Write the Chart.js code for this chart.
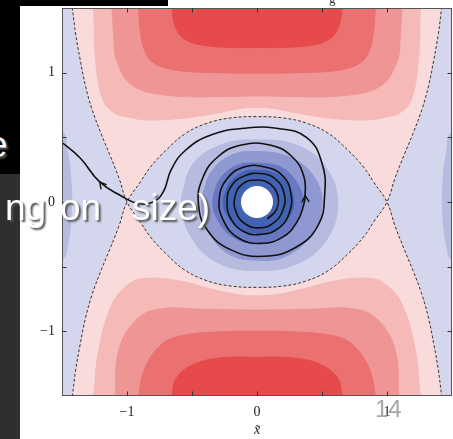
<!DOCTYPE html>
<html>
<head>
<meta charset="utf-8">
<script src="https://cdn.jsdelivr.net/npm/chart.js@4.4.0/dist/chart.umd.min.js"></script>
<style>
  html, body { margin: 0; padding: 0; background: #fff; overflow: hidden; }
  #wrap { position: relative; width: 453px; height: 439px; }
  canvas { position: absolute; left: 0; top: 0; }
  .ov { position: absolute; z-index: 2; white-space: nowrap; }
  .big { font-family: 'Liberation Sans', Arial, sans-serif; font-size: 37px; line-height: 37px; color: #fff; text-shadow: 2px 2px 2px #555; }
</style>
</head>
<body>
<div id="wrap">
  <canvas id="c" width="453" height="439"></canvas>
  <div class="ov" style="left:0;top:0;width:168px;height:6px;background:#000"></div>
  <div class="ov" style="left:0;top:0;width:20px;height:174px;background:#000"></div>
  <div class="ov" style="left:0;top:174px;width:20px;height:265px;background:#2f2f2f"></div>
  <div class="ov" style="left:329px;top:-9px;font-family:'Liberation Serif',serif;font-size:13px;color:#333">g</div>
  <div class="ov big" style="left:-13px;top:126px">e</div>
  <div class="ov big" style="left:5px;top:189px">ng</div>
  <div class="ov big" style="left:60px;top:189px">on</div>
  <div class="ov big" style="left:132px;top:189px">size)</div>
  <div class="ov" style="left:375px;top:397px;font-family:'Liberation Sans',Arial,sans-serif;font-size:24px;line-height:24px;color:#a6a6a6">14</div>
</div>
<script>
// axis ticks
const xTickValues = [-1, -0.5, 0, 0.5, 1];
const xTickLabels = ['−1', '', '0', '', '1'];
const yTickValues = [-1, -0.5, 0, 0.5, 1];
const yTickLabels = ['−1', '', '0', '', '1'];

// contour fill colours: blue levels (psi < 0) and red levels (psi > 0)
const blueLevels = ['#d3d6ed', '#b6bbdf', '#8f98d0', '#6878c2', '#4262b2'];
const redLevels = ['#f9dbdb', '#f5b9b8', '#f09595', '#eb7070', '#e64a4a'];

// separatrix (psi = 0) pieces, saddles at (-1, 0) and (1, 0)
const eyeTop = [[-1.0,0],[-0.9,0.15],[-0.82,0.27],[-0.7,0.4],[-0.55,0.53],[-0.38,0.61],[-0.2,0.65],[0,0.66],
  [0.2,0.65],[0.38,0.61],[0.55,0.53],[0.7,0.4],[0.82,0.27],[0.9,0.15],[1.0,0]];
const eyeBottom = [[-1.0,0],[-0.9,-0.15],[-0.82,-0.27],[-0.7,-0.4],[-0.55,-0.53],[-0.38,-0.61],[-0.2,-0.65],[0,-0.66],
  [0.2,-0.65],[0.38,-0.61],[0.55,-0.53],[0.7,-0.4],[0.82,-0.27],[0.9,-0.15],[1.0,0]];
const outerLeftTop = [[-1.0,0],[-1.06,0.18],[-1.13,0.36],[-1.2,0.53],[-1.27,0.72],[-1.32,0.9],[-1.36,1.1],[-1.395,1.3],[-1.42,1.5],[-1.435,1.62]];
const outerLeftBottom = [[-1.0,0],[-1.06,-0.18],[-1.13,-0.36],[-1.2,-0.53],[-1.27,-0.72],[-1.32,-0.9],[-1.36,-1.1],[-1.395,-1.3],[-1.42,-1.5],[-1.435,-1.62]];
const outerRightTop = [[1.0,0],[1.06,0.18],[1.13,0.36],[1.2,0.53],[1.27,0.72],[1.32,0.9],[1.36,1.1],[1.395,1.3],[1.42,1.5],[1.435,1.62]];
const outerRightBottom = [[1.0,0],[1.06,-0.18],[1.13,-0.36],[1.2,-0.53],[1.27,-0.72],[1.32,-0.9],[1.36,-1.1],[1.395,-1.3],[1.42,-1.5],[1.435,-1.62]];

// red contour levels above the eye
const redTop2 = [[-1.27,1.62],[-1.256,1.5],[-1.244,1.13],[-1.19,0.8],[-1.1,0.69],[-0.98,0.655],[-0.86,0.635],[-0.6,0.645],[-0.35,0.68],[-0.15,0.72],[0,0.733],
  [0.15,0.72],[0.35,0.68],[0.6,0.645],[0.86,0.635],[0.98,0.655],[1.1,0.69],[1.19,0.8],[1.244,1.13],[1.256,1.5],[1.27,1.62]];
const redTop3 = [[-1.12,1.62],[-1.115,1.5],[-1.1,1.25],[-1.09,1.13],[-1.04,1.0],[-0.987,0.925],[-0.9,0.87],[-0.78,0.837],[-0.55,0.815],[-0.3,0.815],[0,0.82],
  [0.3,0.815],[0.55,0.815],[0.78,0.837],[0.9,0.87],[0.987,0.925],[1.04,1.0],[1.09,1.13],[1.1,1.25],[1.115,1.5],[1.12,1.62]];
const redTop4 = [[-0.915,1.62],[-0.91,1.5],[-0.895,1.3],[-0.86,1.16],[-0.8,1.08],[-0.7,1.035],[-0.55,1.01],[-0.3,1.0],[0,0.995],
  [0.3,1.0],[0.55,1.01],[0.7,1.035],[0.8,1.08],[0.86,1.16],[0.895,1.3],[0.91,1.5],[0.915,1.62]];
const redTop5 = [[-0.66,1.62],[-0.654,1.5],[-0.64,1.4],[-0.6,1.3],[-0.52,1.24],[-0.4,1.21],[-0.2,1.195],[0,1.195],
  [0.2,1.195],[0.4,1.21],[0.52,1.24],[0.6,1.3],[0.64,1.4],[0.654,1.5],[0.66,1.62]];

// red contour levels below the eye
const redBot2 = [[-1.27,-1.62],[-1.256,-1.5],[-1.218,-1.148],[-1.115,-0.79],[-0.987,-0.636],[-0.86,-0.59],[-0.6,-0.61],[-0.35,-0.674],[-0.15,-0.715],[0,-0.726],
  [0.15,-0.715],[0.35,-0.674],[0.6,-0.61],[0.86,-0.59],[0.987,-0.636],[1.115,-0.79],[1.218,-1.148],[1.256,-1.5],[1.27,-1.62]];
const redBot3 = [[-1.1,-1.62],[-1.09,-1.5],[-1.064,-1.148],[-0.936,-0.918],[-0.756,-0.828],[-0.4,-0.83],[0,-0.836],
  [0.4,-0.83],[0.756,-0.828],[0.936,-0.918],[1.064,-1.148],[1.09,-1.5],[1.1,-1.62]];
const redBot4 = [[-0.915,-1.62],[-0.91,-1.5],[-0.86,-1.28],[-0.73,-1.097],[-0.577,-1.033],[-0.3,-1.005],[0,-1.0],
  [0.3,-1.005],[0.577,-1.033],[0.73,-1.097],[0.86,-1.28],[0.91,-1.5],[0.915,-1.62]];
const redBot5 = [[-0.66,-1.62],[-0.654,-1.5],[-0.615,-1.354],[-0.474,-1.251],[-0.269,-1.205],[0,-1.2],
  [0.269,-1.205],[0.474,-1.251],[0.615,-1.354],[0.654,-1.5],[0.66,-1.62]];

// weak negative pockets along the left and right edges
const edgeLeft = [[-1.7,0.65],[-1.5,0.55],[-1.46,0.4],[-1.43,0.15],[-1.43,-0.1],[-1.46,-0.35],[-1.5,-0.45],[-1.7,-0.55]];
const edgeRight = [[1.7,0.65],[1.5,0.55],[1.46,0.4],[1.43,0.15],[1.43,-0.1],[1.46,-0.35],[1.5,-0.45],[1.7,-0.55]];

// blue contour levels inside the eye (closed loops)
const blue2 = [[-0.58,0],[-0.5,0.28],[-0.28,0.44],[0,0.48],[0.3,0.44],[0.52,0.28],[0.62,0],[0.53,-0.3],[0.3,-0.48],[0,-0.53],[-0.3,-0.47],[-0.5,-0.28]];
const blue3 = [[-0.425,0],[-0.36,0.22],[-0.2,0.36],[0,0.39],[0.24,0.35],[0.42,0.22],[0.5,0],[0.42,-0.25],[0.22,-0.42],[0,-0.45],[-0.22,-0.4],[-0.37,-0.23]];
const blue4 = [[-0.34,0],[-0.29,0.17],[-0.16,0.28],[0,0.3],[0.18,0.27],[0.3,0.16],[0.355,0],[0.3,-0.17],[0.17,-0.29],[0,-0.32],[-0.17,-0.28],[-0.29,-0.16]];
const blue5 = [[-0.26,0],[-0.22,0.13],[-0.12,0.225],[0,0.245],[0.14,0.22],[0.24,0.13],[0.28,0],[0.24,-0.13],[0.13,-0.22],[0,-0.24],[-0.13,-0.21],[-0.22,-0.12]];
const vortexCore = [[0, 0]];

// particle trajectory, in time order: spirals out of the vortex and leaves to the left
const trajectory = [
  [0.08,-0.13],[0.15,-0.06],[0.16,0.05],[0.1,0.14],[0,0.17],[-0.11,0.14],[-0.17,0.04],[-0.16,-0.08],[-0.09,-0.17],[0.02,-0.2],
  [0.13,-0.16],[0.2,-0.06],[0.21,0.06],[0.15,0.17],[0.03,0.22],[-0.1,0.2],[-0.2,0.12],[-0.23,0],[-0.2,-0.13],[-0.1,-0.23],
  [0.03,-0.25],[0.17,-0.2],[0.25,-0.08],[0.26,0.07],[0.2,0.2],[0.06,0.27],[-0.1,0.27],[-0.23,0.18],[-0.29,0.03],[-0.26,-0.14],
  [-0.14,-0.28],[0.03,-0.32],[0.2,-0.27],[0.31,-0.15],[0.36,-0.02],[0.37,0.05],[0.36,0.2],[0.27,0.35],[0.1,0.44],[-0.12,0.44],
  [-0.3,0.35],[-0.42,0.18],[-0.45,-0.02],[-0.38,-0.22],[-0.2,-0.37],[0.05,-0.42],[0.3,-0.35],[0.47,-0.18],[0.52,0.05],[0.5,0.3],
  [0.38,0.5],[0.15,0.57],[-0.1,0.57],[-0.35,0.52],[-0.55,0.4],[-0.66,0.25],[-0.72,0.08],[-0.8,0.0],[-0.92,-0.01],[-1.05,0.05],
  [-1.21,0.155],[-1.36,0.34],[-1.5,0.46],[-1.56,0.5]
];
// trajectory indices that carry a direction arrow
const arrowAt = [35, 60];

const toPts = a => a.map(([x, y]) => ({ x, y }));
const rev = a => a.slice().reverse();

const layers = [];
function region(points, color, tension = 0.4) {
  layers.push({ data: toPts(points), showLine: true, fill: 'shape', backgroundColor: color,
    borderColor: color, borderWidth: 1, pointRadius: 0, tension });
}
function curve(points, opts) {
  layers.push(Object.assign({ data: toPts(points), showLine: true, fill: false, pointRadius: 0, tension: 0.4 }, opts));
}

// painter's order, bottom layer first
region([[-1.7,-1.7],[-1.7,1.7],[1.7,1.7],[1.7,-1.7]], blueLevels[0], 0);
region(edgeLeft, blueLevels[1]);
region(edgeRight, blueLevels[1]);
region(rev(outerLeftTop).concat(eyeTop, outerRightTop), redLevels[0]);
region(rev(outerLeftBottom).concat(eyeBottom, outerRightBottom), redLevels[0]);
region(redTop2, redLevels[1]); region(redTop3, redLevels[2]); region(redTop4, redLevels[3]); region(redTop5, redLevels[4]);
region(redBot2, redLevels[1]); region(redBot3, redLevels[2]); region(redBot4, redLevels[3]); region(redBot5, redLevels[4]);
[blue2, blue3, blue4, blue5].forEach((loop, i) => region(loop.concat(loop.slice(0, 2)), blueLevels[i + 1]));
layers.push({ data: toPts(vortexCore), showLine: false, pointRadius: 16, pointBackgroundColor: '#fff', pointBorderWidth: 0 });
const dashed = { borderColor: '#333', borderWidth: 1, borderDash: [3, 2] };
curve(rev(outerLeftTop).concat(eyeBottom.slice(1), outerRightTop.slice(1)), dashed);
curve(rev(outerLeftBottom).concat(eyeTop.slice(1), outerRightBottom.slice(1)), dashed);
curve(trajectory, { borderColor: '#111', borderWidth: 1.6, tension: 0.45 });
const trajIndex = layers.length - 1;
layers.forEach((d, i) => { d.order = layers.length - i; });

const frame = {
  id: 'frame',
  afterDatasetsDraw(chart) {
    const { ctx, chartArea: a, scales: { x, y } } = chart;
    ctx.save();
    // direction arrows on the trajectory
    const pts = chart.getDatasetMeta(trajIndex).data;
    ctx.strokeStyle = '#111'; ctx.lineWidth = 1.4; ctx.lineCap = 'round';
    arrowAt.forEach(i => {
      const p = pts[i], q = pts[i + 1];
      const ang = Math.atan2(q.y - p.y, q.x - p.x);
      const L = 7, w = 0.5;
      ctx.beginPath();
      ctx.moveTo(p.x - L * Math.cos(ang - w), p.y - L * Math.sin(ang - w));
      ctx.lineTo(p.x, p.y);
      ctx.lineTo(p.x - L * Math.cos(ang + w), p.y - L * Math.sin(ang + w));
      ctx.stroke();
    });
    // axes frame and inward ticks on all four sides
    ctx.strokeStyle = '#555'; ctx.lineWidth = 1; ctx.lineCap = 'butt';
    ctx.strokeRect(a.left + 0.5, a.top + 0.5, a.right - a.left - 1, a.bottom - a.top - 1);
    const tl = 4.5;
    ctx.strokeStyle = '#333';
    ctx.beginPath();
    xTickValues.forEach(v => {
      const px = Math.round(x.getPixelForValue(v)) + 0.5;
      ctx.moveTo(px, a.bottom); ctx.lineTo(px, a.bottom - tl);
      ctx.moveTo(px, a.top); ctx.lineTo(px, a.top + tl);
    });
    yTickValues.forEach(v => {
      const py = Math.round(y.getPixelForValue(v)) + 0.5;
      ctx.moveTo(a.left, py); ctx.lineTo(a.left + tl, py);
      ctx.moveTo(a.right, py); ctx.lineTo(a.right - tl, py);
    });
    ctx.stroke();
    ctx.restore();
  }
};

const tickFont = { family: "'Liberation Serif', 'DejaVu Serif', serif", size: 14 };
new Chart(document.getElementById('c'), {
  type: 'scatter',
  data: { datasets: layers },
  options: {
    responsive: false, devicePixelRatio: 1, animation: false, events: [],
    layout: { autoPadding: false, padding: { left: 0, top: 8, right: 1, bottom: 0 } },
    plugins: { legend: { display: false }, tooltip: { enabled: false } },
    scales: {
      x: {
        type: 'linear', min: -1.5, max: 1.5,
        afterBuildTicks: s => { s.ticks = xTickValues.map(v => ({ value: v })); },
        afterFit: s => { s.height = 43; s.paddingLeft = 0; s.paddingRight = 0; },
        ticks: { callback: (v, i) => xTickLabels[i], font: tickFont, color: '#222', padding: 8, maxRotation: 0, autoSkip: false },
        grid: { display: false, drawTicks: false },
        border: { display: false },
        title: { display: true, text: 'x̃', color: '#222', padding: { top: 0, bottom: 0 },
          font: { family: "'Liberation Serif', 'DejaVu Serif', serif", size: 14, style: 'italic' } }
      },
      y: {
        type: 'linear', min: -1.5, max: 1.5,
        afterBuildTicks: s => { s.ticks = yTickValues.map(v => ({ value: v })); },
        afterFit: s => { s.width = 62; s.paddingTop = 0; s.paddingBottom = 0; },
        ticks: { callback: (v, i) => yTickLabels[i], font: tickFont, color: '#222', padding: 7, autoSkip: false },
        grid: { display: false, drawTicks: false },
        border: { display: false }
      }
    }
  },
  plugins: [frame]
});
</script>
</body>
</html>
